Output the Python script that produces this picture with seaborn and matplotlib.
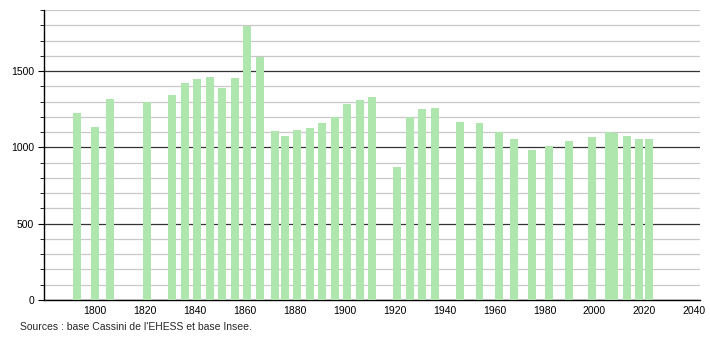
import matplotlib
matplotlib.use("Agg")
import matplotlib.pyplot as plt
from matplotlib.ticker import MultipleLocator
import seaborn as sns
import pandas as pd

years = [1793, 1800, 1806, 1821, 1831, 1836, 1841, 1846, 1851, 1856, 1861, 1866,
         1872, 1876, 1881, 1886, 1891, 1896, 1901, 1906, 1911, 1921, 1926, 1931,
         1936, 1946, 1954, 1962, 1968, 1975, 1982, 1990, 1999, 2006, 2008, 2013,
         2018, 2022]
population = [1228, 1136, 1320, 1298, 1345, 1419, 1447, 1458, 1388, 1454, 1798, 1590,
              1110, 1072, 1116, 1125, 1162, 1202, 1281, 1309, 1327, 871, 1202, 1250,
              1261, 1169, 1158, 1103, 1053, 985, 1007, 1039, 1066, 1098, 1094, 1074,
              1053, 1058]
y_ticks = [0, 500, 1000, 1500]
x_ticks = list(range(1800, 2041, 20))
source_text = "Sources : base Cassini de l'EHESS et base Insee."

df = pd.DataFrame({"year": years, "population": population})

sns.set_style("white")
plt.rcParams["font.family"] = ["Liberation Sans", "DejaVu Sans"]

fig = plt.figure(figsize=(7.1, 3.4), dpi=100)
ax = fig.add_axes([44 / 710, 40 / 340, (700 - 44) / 710, 290 / 340])

min_gap = min(b - a for a, b in zip(sorted(years), sorted(years)[1:]))
sns.barplot(data=df, x="year", y="population", native_scale=True,
            width=3.2 / min_gap, color="#aee6ae", saturation=1,
            edgecolor="none", linewidth=0, ax=ax, zorder=3, errorbar=None)

ax.set_xlim(1779.6, 2042.3)
ax.set_ylim(0, 1900)

# grid lines
ax.yaxis.set_major_locator(MultipleLocator(500))
ax.yaxis.set_minor_locator(MultipleLocator(100))
ax.grid(which="minor", axis="y", color="#c8c8c8", linewidth=0.9, zorder=0)
ax.grid(which="major", axis="y", color="#333333", linewidth=0.9, zorder=0)
ax.grid(False, axis="x")
ax.set_axisbelow(True)

ax.set_yticks(y_ticks)
ax.set_xticks(x_ticks)
ax.set_xticklabels([str(t) for t in x_ticks])
ax.tick_params(axis="x", length=0, labelsize=7.5, pad=4, colors="#000000")
ax.tick_params(axis="y", which="major", length=4, direction="out", labelsize=7.5,
               pad=3, colors="#000000", left=True)
ax.tick_params(axis="y", which="minor", length=3, direction="out", left=True,
               color="#000000")

for side in ["top", "right"]:
    ax.spines[side].set_visible(False)
for side in ["left", "bottom"]:
    ax.spines[side].set_color("#000000")
    ax.spines[side].set_linewidth(1.0)

ax.set_xlabel("")
ax.set_ylabel("")

fig.text(20 / 710, 1 - 327 / 340, source_text, fontsize=7.5, va="center", ha="left")

fig.savefig("out.png", dpi=100)
